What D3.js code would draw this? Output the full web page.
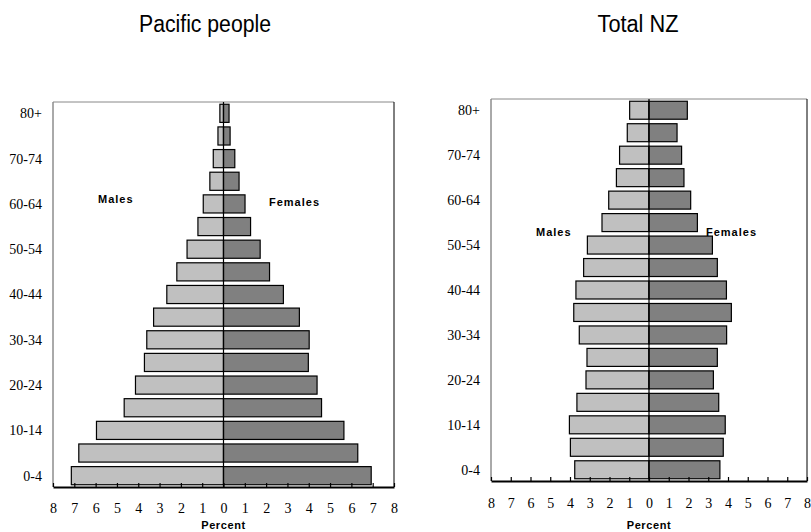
<!DOCTYPE html>
<html><head><meta charset="utf-8">
<script src="https://cdn.jsdelivr.net/npm/d3@7"></script>
<style>body{margin:0;background:#fff}
.serif{font-family:"Liberation Serif","Times New Roman",Times,serif;}
.sans{font-family:"Liberation Sans",Arial,Helvetica,sans-serif;}
</style>
</head><body>
<svg id="c" width="811" height="532"></svg>
<script>
const ageGroups = ["0-4","5-9","10-14","15-19","20-24","25-29","30-34","35-39","40-44","45-49","50-54","55-59","60-64","65-69","70-74","75-79","80+"];
const ageLabels = ["0-4","10-14","20-24","30-34","40-44","50-54","60-64","70-74","80+"];
const pacificMales   = [7.14,6.79,5.96,4.66,4.13,3.71,3.60,3.28,2.66,2.19,1.71,1.20,0.95,0.64,0.48,0.26,0.17];
const pacificFemales = [6.93,6.30,5.65,4.60,4.39,3.98,4.02,3.56,2.81,2.16,1.72,1.27,1.01,0.73,0.53,0.31,0.26];
const nzMales   = [3.76,3.98,4.03,3.65,3.19,3.14,3.53,3.81,3.70,3.31,3.12,2.38,2.04,1.65,1.49,1.10,0.98];
const nzFemales = [3.59,3.76,3.86,3.53,3.26,3.46,3.93,4.17,3.92,3.46,3.21,2.45,2.11,1.77,1.65,1.42,1.94];
const xTicks = [-8,-7,-6,-5,-4,-3,-2,-1,0,1,2,3,4,5,6,7,8];

const svg = d3.select("#c");

function panel(cfg){
  const g = svg.append("g");
  const x = d3.scaleLinear().domain([-8,8]).range([cfg.left,cfg.right]);
  const y = d3.scaleBand().domain(ageGroups).range([cfg.bottom,cfg.top]).paddingInner(0.2).paddingOuter(0.1);
  // title
  g.append("text").attr("class","sans").attr("x",cfg.titleX).attr("y",32).attr("text-anchor","middle")
    .style("font-size","23px").attr("textLength",cfg.titleLen).attr("lengthAdjust","spacingAndGlyphs").text(cfg.title);
  // frame
  g.append("line").attr("x1",cfg.left).attr("x2",cfg.left).attr("y1",cfg.top).attr("y2",cfg.bottom).attr("stroke","#555").attr("stroke-width",1);
  g.append("line").attr("x1",cfg.left).attr("x2",cfg.right).attr("y1",cfg.top).attr("y2",cfg.top).attr("stroke","#888").attr("stroke-width",1);
  g.append("line").attr("x1",cfg.right).attr("x2",cfg.right).attr("y1",cfg.top).attr("y2",cfg.bottom).attr("stroke","#000").attr("stroke-width",1);
  // bars
  g.selectAll(".m").data(ageGroups).join("rect")
    .attr("x",(d,i)=>x(-cfg.males[i])).attr("width",(d,i)=>x(0)-x(-cfg.males[i]))
    .attr("y",d=>y(d)).attr("height",y.bandwidth())
    .attr("fill","#c0c0c0").attr("stroke","#000").attr("stroke-width",1.2);
  g.selectAll(".f").data(ageGroups).join("rect")
    .attr("x",x(0)).attr("width",(d,i)=>x(cfg.females[i])-x(0))
    .attr("y",d=>y(d)).attr("height",y.bandwidth())
    .attr("fill","#808080").attr("stroke","#000").attr("stroke-width",1.2);
  // zero line
  g.append("line").attr("x1",x(0)).attr("x2",x(0)).attr("y1",cfg.top).attr("y2",cfg.bottom).attr("stroke","#000").attr("stroke-width",1.2);
  // x axis
  const ax = g.append("g").attr("transform",`translate(0,${cfg.bottom})`)
    .call(d3.axisBottom(x).tickValues(xTicks).tickSize(-4).tickSizeOuter(0).tickPadding(cfg.tickPad).tickFormat(d=>Math.abs(d)));
  ax.attr("font-family",null).attr("font-size",null);
  ax.select(".domain").attr("stroke","#000").attr("stroke-width",2);
  ax.selectAll(".tick line").attr("stroke","#000").attr("stroke-width",1.2);
  ax.selectAll("text").attr("class","serif").style("font-size","14px").attr("fill","#000");
  g.append("text").attr("class","sans").attr("x",x(0)).attr("y",cfg.percentY).attr("text-anchor","middle")
    .style("font-weight","bold").style("font-size","11px").style("letter-spacing","0.6px").text("Percent");
  // y labels
  g.selectAll(".yl").data(ageLabels).join("text").attr("class","serif")
    .attr("x",cfg.left-11).attr("y",d=>y(d)+y.bandwidth()/2).attr("dy","0.35em").attr("text-anchor","end")
    .style("font-size","14px").text(d=>d);
  // sex labels
  g.append("text").attr("class","sans").attr("x",cfg.malesX).attr("y",cfg.malesY)
    .style("font-weight","bold").style("font-size","11px").style("letter-spacing","1px").text("Males");
  g.append("text").attr("class","sans").attr("x",cfg.femalesX).attr("y",cfg.femalesY)
    .style("font-weight","bold").style("font-size","11px").style("letter-spacing","1px").text("Females");
}

panel({title:"Pacific people",titleX:205,titleLen:132,left:53,right:394,top:102,bottom:487,tickPad:16,percentY:529,
  males:pacificMales,females:pacificFemales,malesX:98,malesY:203,femalesX:269,femalesY:206});
panel({title:"Total NZ",titleX:638,titleLen:81,left:491,right:807,top:99,bottom:481,tickPad:17,percentY:529,
  males:nzMales,females:nzFemales,malesX:536,malesY:236,femalesX:706,femalesY:236});
</script>
</body></html>
